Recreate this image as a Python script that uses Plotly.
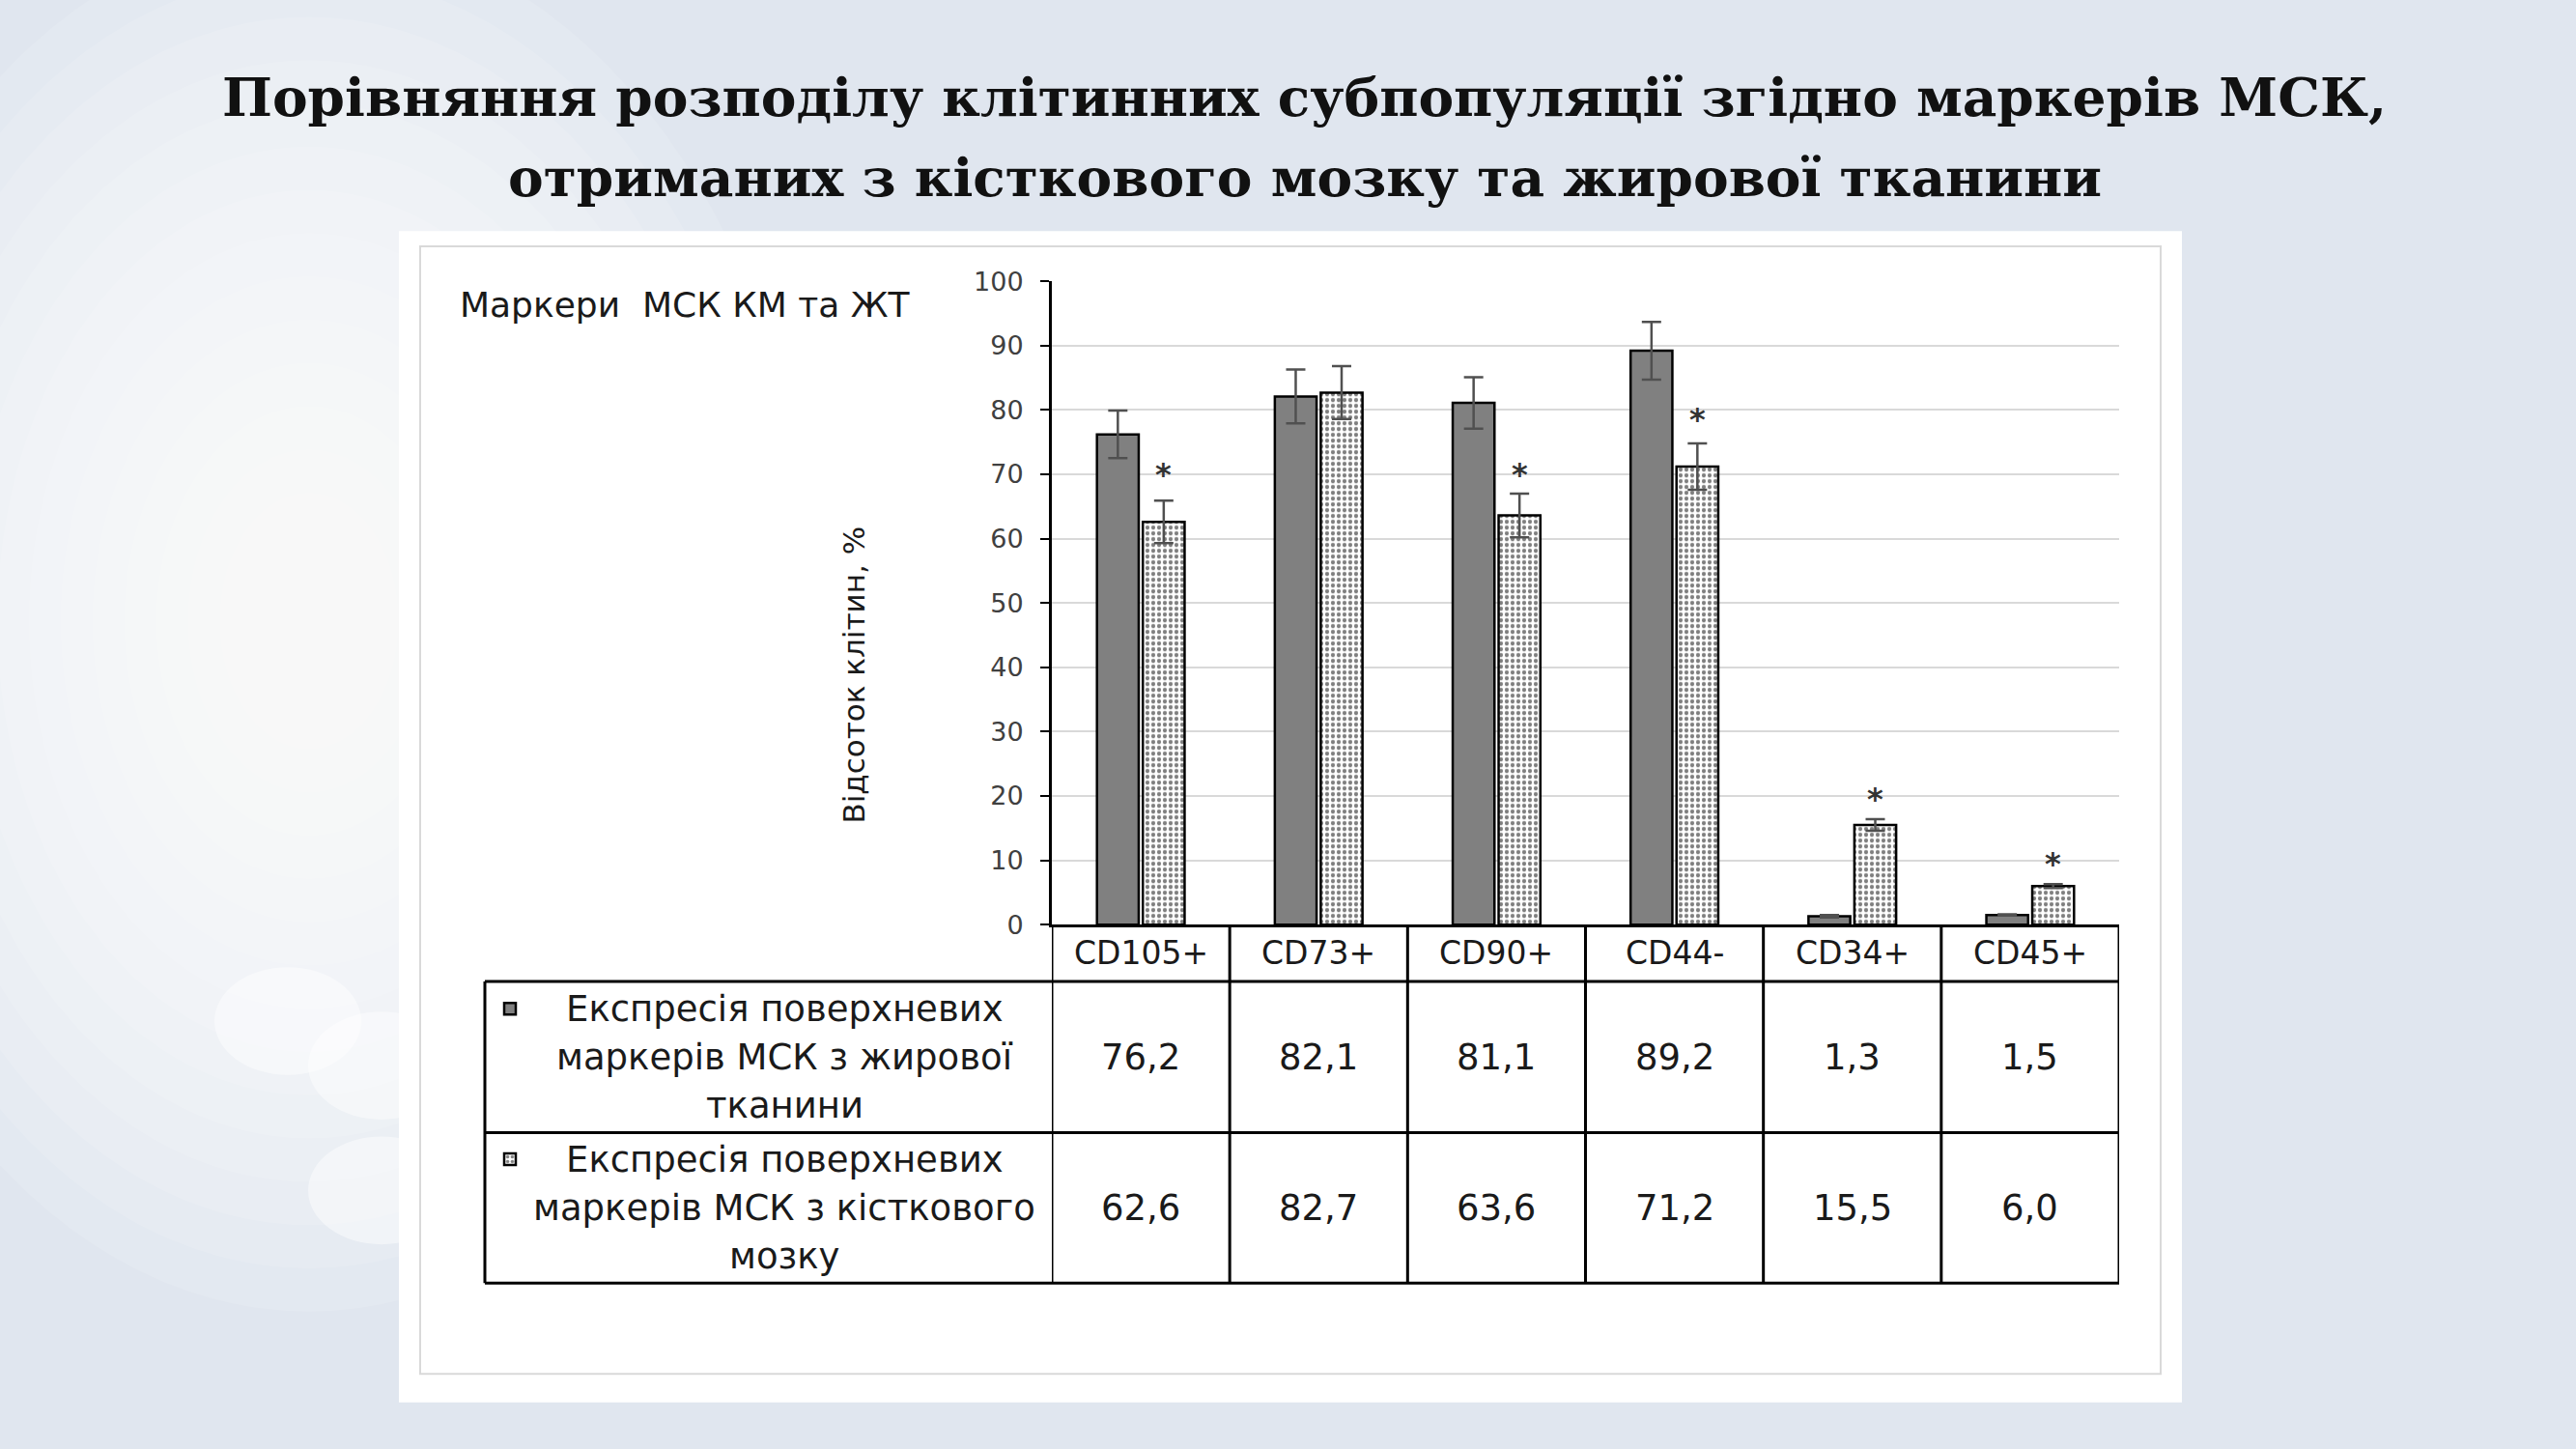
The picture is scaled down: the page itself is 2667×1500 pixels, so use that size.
import plotly.graph_objects as go

# --- data ---
markers = ["CD105+", "CD73+", "CD90+", "CD44-", "CD34+", "CD45+"]
fat = [76.2, 82.1, 81.1, 89.2, 1.3, 1.5]          # жирова тканина (grey bars)
marrow = [62.6, 82.7, 63.6, 71.2, 15.5, 6.0]      # кістковий мозок (dotted bars)
fat_err = [3.7, 4.2, 4.0, 4.5, 0.2, 0.1]
marrow_err = [3.3, 4.1, 3.4, 3.6, 0.9, 0.3]
star_y = [70, None, 70, 78.5, 19.5, 9.5]          # "*" marks over the dotted bars
fat_label = ["Експресія поверхневих", "маркерів МСК з жирової", "тканини"]
marrow_label = ["Експресія поверхневих", "маркерів МСК з кісткового", "мозку"]
title_lines = ["Порівняння розподілу клітинних субпопуляції згідно маркерів МСК,",
               "отриманих з кісткового мозку та жирової тканини"]

W, H = 2667, 1500
def px(x): return x / W
def py(y): return 1 - y / H

SANS = "DejaVu Sans"
INK = "#1a1a1a"
BARGAP = 0.484

fig = go.Figure()
fig.add_trace(go.Bar(
    x=markers, y=fat, name="ЖТ", legend="legend",
    marker=dict(color="#808080", line=dict(color="black", width=2.5)),
    error_y=dict(type="data", array=fat_err, color="#505050", thickness=2.5, width=10)))
fig.add_trace(go.Bar(
    x=markers, y=marrow, name="КМ", legend="legend2",
    marker=dict(color="white", line=dict(color="black", width=2.5),
                pattern=dict(shape=".", fgcolor="black", bgcolor="white", size=6, solidity=0.4)),
    error_y=dict(type="data", array=marrow_err, color="#505050", thickness=2.5, width=10)))

shapes = []
# slide background: soft white glow and bokeh circles on the left
for k in range(14):
    f = 1 - k / 14
    rx, ry = 460 * f + 60, 640 * f + 90
    shapes.append(dict(type="circle", xref="paper", yref="paper", layer="below",
                       x0=px(320 - rx), x1=px(320 + rx), y0=py(640 + ry), y1=py(640 - ry),
                       fillcolor="white", opacity=0.12, line=dict(width=0)))
for cx, cy, r in [(298, 1063, 76), (395, 1110, 76), (395, 1242, 76)]:
    shapes.append(dict(type="circle", xref="paper", yref="paper", layer="below",
                       x0=px(cx - r), x1=px(cx + r), y0=py(cy + r * 0.75), y1=py(cy - r * 0.75),
                       fillcolor="white", opacity=0.45, line=dict(width=0)))
# white panel holding the chart picture
shapes.append(dict(type="rect", xref="paper", yref="paper", layer="below",
                   x0=px(413), x1=px(2259), y0=py(1466), y1=py(228),
                   fillcolor="white", line=dict(width=0)))
shapes.append(dict(type="rect", xref="paper", yref="paper", layer="below",
                   x0=px(435), x1=px(2237), y0=py(1436), y1=py(244),
                   fillcolor="rgba(0,0,0,0)", line=dict(color="#d9d9d9", width=2)))

# data table under the bars
line = dict(color="black", width=3)
for yy in [1021, 1181, 1340]:
    shapes.append(dict(type="line", xref="paper", yref="paper",
                       x0=px(502), x1=px(2194), y0=py(yy), y1=py(yy), line=line))
shapes.append(dict(type="line", xref="paper", yref="paper",
                   x0=px(502), x1=px(502), y0=py(1021), y1=py(1340), line=line))
for k in range(len(markers) + 1):
    shapes.append(dict(type="line", xref="x", yref="paper",
                       x0=k - 0.5, x1=k - 0.5, y0=py(961), y1=py(1340), line=line))

ann = []
for i, t in enumerate(title_lines):
    ann.append(dict(text=f"<b>{t}</b>", xref="paper", yref="paper", x=px(1351), y=py(86 + 85 * i),
                    showarrow=False, xanchor="center", yanchor="middle",
                    font=dict(family="DejaVu Serif", size=55, color="#111111")))
ann.append(dict(text="Маркери  МСК КМ та ЖТ", xref="paper", yref="paper", x=px(474), y=py(306),
                showarrow=False, xanchor="left", yanchor="middle",
                font=dict(family=SANS, size=36, color=INK)))
ann.append(dict(text="Відсоток клітин, %", xref="paper", yref="paper", x=px(884), y=py(697),
                showarrow=False, textangle=-90, xanchor="center", yanchor="middle",
                font=dict(family=SANS, size=31, color=INK)))

dx = (1 - BARGAP) * (px(2194) - px(1089)) * W / len(markers) / 4   # centre of the dotted bar
for m, s in zip(markers, star_y):
    if s is not None:
        ann.append(dict(text="<b>*</b>", xref="x", yref="y", x=m, y=s, xshift=dx, yshift=0,
                        showarrow=False, font=dict(family=SANS, size=32, color="#333333")))
for m in markers:
    ann.append(dict(text=m, xref="x", yref="paper", x=m, y=py(991), showarrow=False,
                    xanchor="center", yanchor="middle", font=dict(family=SANS, size=33, color=INK)))
for vals, yy in [(fat, 1101), (marrow, 1261)]:
    for m, v in zip(markers, vals):
        ann.append(dict(text=f"{v:.1f}".replace(".", ","), xref="x", yref="paper", x=m, y=py(yy),
                        showarrow=False, xanchor="center", yanchor="middle",
                        font=dict(family=SANS, size=37, color=INK)))
for lines, yc in [(fat_label, 1101), (marrow_label, 1261)]:
    for i, t in enumerate(lines):
        ann.append(dict(text=t, xref="paper", yref="paper", x=px(812), y=py(yc + (i - 1) * 51),
                        showarrow=False, xanchor="center", yanchor="middle",
                        font=dict(family=SANS, size=37, color=INK)))

key = dict(xanchor="left", yanchor="middle", bgcolor="rgba(0,0,0,0)", borderwidth=0,
           font=dict(size=10, color="rgba(0,0,0,0)"), itemclick=False, itemdoubleclick=False)
fig.update_layout(
    width=W, height=H, margin=dict(l=0, r=0, t=0, b=0),
    paper_bgcolor="#e0e6ef", plot_bgcolor="white",
    barmode="group", bargap=BARGAP, bargroupgap=0.09,
    showlegend=True,
    legend=dict(x=px(508), y=py(1050), **key),
    legend2=dict(x=px(508), y=py(1209), **key),
    xaxis=dict(domain=[px(1089), px(2194)], range=[-0.5, len(markers) - 0.5],
               showticklabels=False, showgrid=False, ticks="",
               showline=True, linecolor="black", linewidth=3),
    yaxis=dict(domain=[py(961), py(281)], range=[0, 100], dtick=10,
               showgrid=True, gridcolor="#d9d9d9", gridwidth=2, zeroline=False,
               showline=True, linecolor="black", linewidth=3,
               ticks="outside", ticklen=9, tickwidth=2, tickcolor="black", ticklabelstandoff=12,
               tickfont=dict(family=SANS, size=27, color="#404040")),
    shapes=shapes, annotations=ann)

fig.write_html("out.html", config={"displayModeBar": False},
               post_script="document.body.style.margin='0';")
